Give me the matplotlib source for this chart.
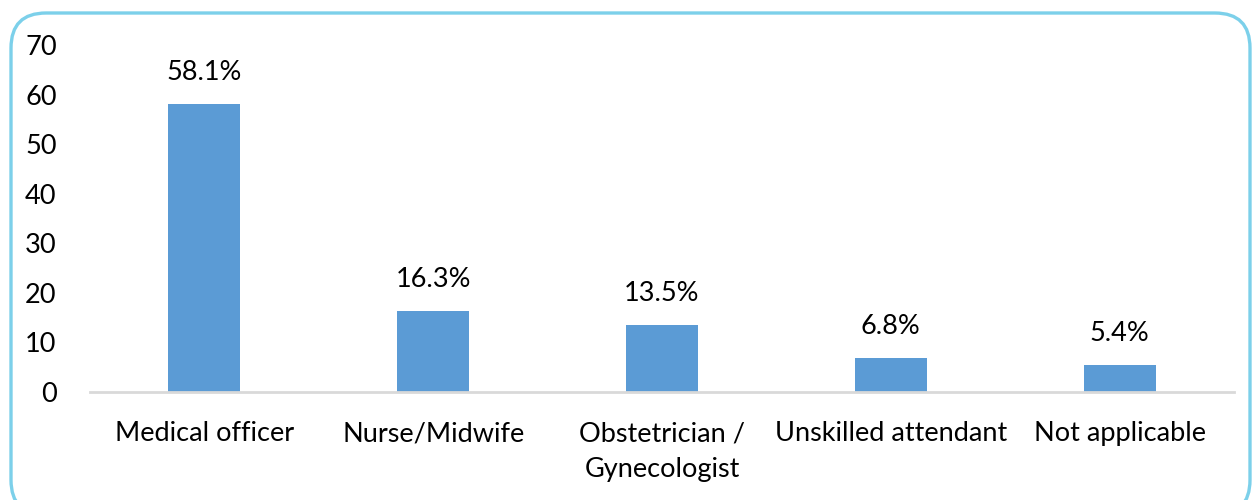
import matplotlib
matplotlib.use("Agg")
import matplotlib.pyplot as plt
from matplotlib.patches import FancyBboxPatch

categories = ["Medical officer", "Nurse/Midwife", "Obstetrician /\nGynecologist",
              "Unskilled attendant", "Not applicable"]
values = [58.1, 16.3, 13.5, 6.8, 5.4]
labels = ["58.1%", "16.3%", "13.5%", "6.8%", "5.4%"]
yticks = [0, 10, 20, 30, 40, 50, 60, 70]

plt.rcParams['font.family'] = ['Lato', 'DejaVu Sans']
FS = 19.5

fig = plt.figure(figsize=(12.53, 5.0), dpi=100)
# rounded border
bottom = -0.03
top = 1 - 13/500
border = FancyBboxPatch((11/1253, bottom), (1250-11)/1253, top - bottom,
                        boxstyle="round,pad=0,rounding_size=0.028",
                        transform=fig.transFigure, fill=False,
                        edgecolor="#7cd0ea", linewidth=2.4, mutation_aspect=2.5)
fig.patches.append(border)

ax = fig.add_axes([90/1253, 1-392/500, (1234-90)/1253, (392-45)/500])
x = range(len(categories))
bars = ax.bar(x, values, width=0.315, color="#5b9bd5")
for xi, v, lab in zip(x, values, labels):
    ax.annotate(lab, (xi, v), xytext=(0, 14), textcoords="offset points",
                ha="center", va="bottom", fontsize=FS, color="#000000")

ax.set_xlim(-0.5, len(categories) - 0.5)
ax.set_ylim(0, 70)
ax.set_yticks(yticks)
ax.set_yticklabels([str(t) for t in yticks], fontsize=FS)
ax.set_xticks(list(x))
ax.set_xticklabels(categories, fontsize=FS, linespacing=1.55)
ax.tick_params(axis='y', length=0, pad=24, colors="#000000")
ax.tick_params(axis='x', length=0, pad=21, colors="#000000")
for s in ["top", "right", "left"]:
    ax.spines[s].set_visible(False)
ax.spines["bottom"].set_color("#d9d9d9")
ax.spines["bottom"].set_linewidth(2)
ax.patch.set_alpha(0)

fig.savefig("out.png", dpi=100)
